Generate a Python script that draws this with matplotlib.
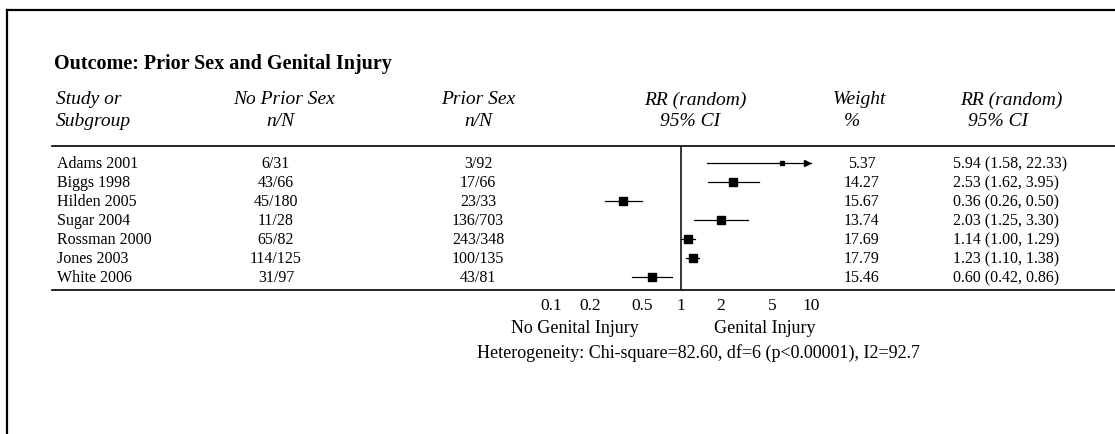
import matplotlib.pyplot as plt

# ── Data ─────────────────────────────────────────────
studies = ["Adams 2001", "Biggs 1998", "Hilden 2005", "Sugar 2004",
           "Rossman 2000", "Jones 2003", "White 2006"]
no_prior = ["6/31", "43/66", "45/180", "11/28", "65/82", "114/125", "31/97"]
prior = ["3/92", "17/66", "23/33", "136/703", "243/348", "100/135", "43/81"]
weights = [5.37, 14.27, 15.67, 13.74, 17.69, 17.79, 15.46]
rr = [5.94, 2.53, 0.36, 2.03, 1.14, 1.23, 0.60]
lo = [1.58, 1.62, 0.26, 1.25, 1.00, 1.10, 0.42]
hi = [22.33, 3.95, 0.50, 3.30, 1.29, 1.38, 0.86]
ticks = [0.1, 0.2, 0.5, 1, 2, 5, 10]
tick_labels = ["0.1", "0.2", "0.5", "1", "2", "5", "10"]

W, H = 1115, 435
plt.rcParams["font.family"] = "Liberation Serif"

fig = plt.figure(figsize=(W / 100, H / 100), dpi=100)
base = fig.add_axes([0, 0, 1, 1])
base.set_xlim(0, W)
base.set_ylim(H, 0)
base.axis("off")

# page frame
base.plot([7, 7], [11, H], color="black", lw=1.6)
base.plot([7, W], [11, 11], color="black", lw=1.6)

# title + headers
base.text(54, 64, "Outcome: Prior Sex and Genital Injury", fontsize=14.5,
          fontweight="bold", va="center")
hdr = dict(fontsize=14, style="italic", va="center")
base.text(56, 100, "Study or", **hdr)
base.text(56, 121, "Subgroup", **hdr)
base.text(284, 100, "No Prior Sex", ha="center", **hdr)
base.text(280, 121, "n/N", ha="center", **hdr)
base.text(478, 100, "Prior Sex", ha="center", **hdr)
base.text(478, 121, "n/N", ha="center", **hdr)
base.text(695, 100, "RR (random)", ha="center", **hdr)
base.text(690, 121, "95% CI", ha="center", **hdr)
base.text(833, 100, "Weight", **hdr)
base.text(844, 121, "%", **hdr)
base.text(960, 100, "RR (random)", **hdr)
base.text(968, 121, "95% CI", **hdr)

top_rule, bot_rule = 147, 291
base.plot([52, W], [top_rule, top_rule], color="black", lw=1.2)
base.plot([52, W], [bot_rule, bot_rule], color="black", lw=1.2)

# row text
y0, dy = 164, 19
for i, name in enumerate(studies):
    y = y0 + i * dy
    base.text(57, y, name, fontsize=11.5, va="center")
    base.text(276, y, no_prior[i], fontsize=11.5, va="center", ha="center")
    base.text(478, y, prior[i], fontsize=11.5, va="center", ha="center")
    base.text(862, y, f"{weights[i]:.2f}", fontsize=11.5, va="center", ha="center")
    base.text(953, y, f"{rr[i]:.2f} ({lo[i]:.2f}, {hi[i]:.2f})",
              fontsize=11.5, va="center")

# ── Forest panel (log scale) ────────────────────────
x_left, x_right = 540, 830
ax = fig.add_axes([x_left / W, 1 - bot_rule / H,
                   (x_right - x_left) / W, (bot_rule - top_rule) / H])
ax.set_xscale("log")
ax.set_xlim(10 ** ((x_left - 681) / 130), 10 ** ((x_right - 681) / 130))
ax.set_ylim((bot_rule - y0) / dy, (top_rule - y0) / dy)
ax.patch.set_alpha(0)
for s in ax.spines.values():
    s.set_visible(False)
ax.set_yticks([])
ax.set_xticks(ticks)
ax.set_xticklabels(tick_labels, fontsize=12.5)
ax.minorticks_off()
ax.tick_params(axis="x", length=0, pad=5)

ax.axvline(1, color="black", lw=1.1)
for i in range(len(studies)):
    right = min(hi[i], 10)
    ax.plot([lo[i], right], [i, i], color="black", lw=0.9)
    ax.plot(rr[i], i, marker="s", color="black", ms=2.2 + 0.24 * weights[i])
    if hi[i] > 10:
        ax.plot(9.3, i, marker=">", color="black", ms=5)

base.text(575, 329, "No Genital Injury", fontsize=13, va="center", ha="center")
base.text(765, 329, "Genital Injury", fontsize=13, va="center", ha="center")
base.text(477, 353, "Heterogeneity: Chi-square=82.60, df=6 (p<0.00001), I2=92.7",
          fontsize=13, va="center")

fig.savefig("out.png", dpi=100)
